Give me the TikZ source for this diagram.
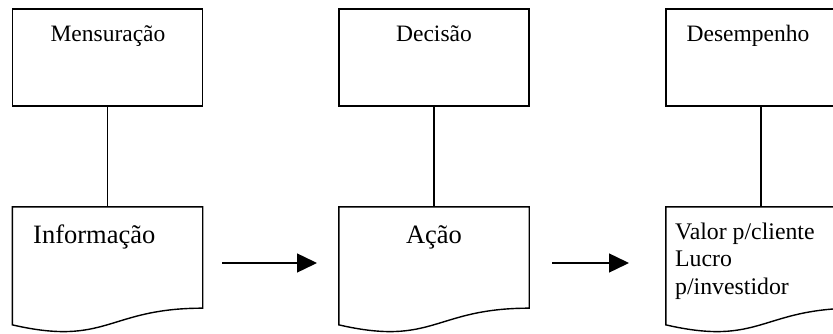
\documentclass[tikz,border=0pt]{standalone}
\usepackage{fontspec}
\setmainfont{Liberation Serif}
\usetikzlibrary{arrows.meta,calc}
\begin{document}
\begin{tikzpicture}[x=1pt,y=-1pt,
  line/.style={draw=black,line width=1.4pt,line join=miter},
  topbox/.style={line,rectangle,inner sep=0pt,minimum width=190pt,minimum height=97pt},
  docarea/.style={rectangle,inner sep=0pt,minimum width=190pt,minimum height=126pt},
  toplabel/.style={anchor=base,inner sep=0pt,font=\fontsize{23.5}{27}\selectfont},
  biglabel/.style={anchor=base,inner sep=0pt,font=\fontsize{26.5}{30}\selectfont},
  flow/.style={line width=1.4pt,-{Triangle[length=20pt,width=19pt]}},
  conn/.style={line width=1.4pt}
]
\useasboundingbox (0,0) rectangle (833,334);
\clip (0,0) rectangle (833,334);
% macro for document shape, drawn from an invisible area node
\newcommand{\docshape}[1]{%
  \draw[line] (#1.north west) -- (#1.north east)
    -- ($(#1.north east)!0.802!(#1.south east)$)
    .. controls ($(#1.north)!0.802!(#1.south)$) and ($(#1.north)!1.1075!(#1.south)$)
    .. ($(#1.north west)!0.934!(#1.south west)$) -- cycle;}
% top boxes
\node[topbox] (mens) at (107.5,57.5) {};
\node[topbox] (dec)  at (434,57.5) {};
\node[topbox] (des)  at (761,57.5) {};
\node[toplabel] (tmens) at (108,42) {Mensuração};
\node[toplabel] (tdec)  at (434,42) {Decisão};
\node[toplabel] (tdes)  at (748,42) {Desempenho};
% document shapes
\node[docarea] (inf)  at (107.5,270) {};
\node[docarea] (acao) at (434,270) {};
\node[docarea] (val)  at (761,270) {};
\docshape{inf}
\docshape{acao}
\docshape{val}
\node[biglabel,anchor=base west] (tinf) at (33,243) {Informação};
\node[biglabel] (tacao) at (434,243) {Ação};
\node[anchor=north west,inner sep=0pt,align=left,font=\fontsize{23.8}{27.5}\selectfont] (tval) at (675,222.5)
  {Valor p/cliente\\Lucro\\p/investidor};
% connectors
\draw[conn] (mens.south) -- (inf.north);
\draw[conn] (dec.south) -- (acao.north);
\draw[conn] (des.south) -- (val.north);
% arrows
\coordinate (a1s) at (222,263);
\coordinate (a1e) at (317,263);
\coordinate (a2s) at (552,263);
\coordinate (a2e) at (629,263);
\draw[flow] (a1s) -- (a1e);
\draw[flow] (a2s) -- (a2e);
\end{tikzpicture}
\end{document}
